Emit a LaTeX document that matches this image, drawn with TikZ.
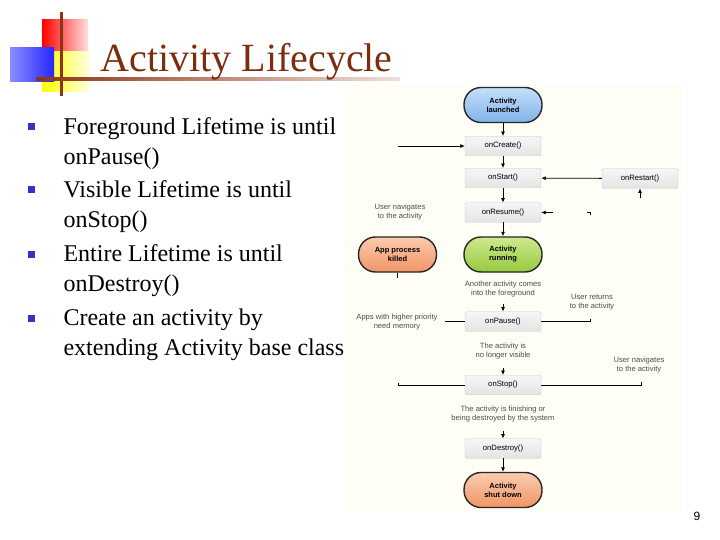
\documentclass[tikz,border=0pt]{standalone}
\usepackage{fontspec}
\setmainfont{Liberation Serif}
\setsansfont{Liberation Sans}
\usetikzlibrary{positioning,arrows.meta}
\definecolor{titlebrown}{RGB}{122,46,14}
\definecolor{barbrown}{RGB}{140,52,20}
\definecolor{bulletblue}{RGB}{51,51,204}
\definecolor{boxline}{RGB}{200,200,200}
\definecolor{boxtop}{RGB}{246,246,246}
\definecolor{boxbot}{RGB}{228,228,228}
\definecolor{paper}{RGB}{254,254,246}
\definecolor{bluetop}{RGB}{196,224,250}
\definecolor{bluebot}{RGB}{128,178,234}
\definecolor{greentop}{RGB}{206,234,140}
\definecolor{greenbot}{RGB}{150,200,64}
\definecolor{orangetop}{RGB}{252,204,176}
\definecolor{orangebot}{RGB}{240,148,100}

\begin{document}
\begin{tikzpicture}[x=1pt,y=-1pt,
	call/.style={draw=boxline, top color=boxtop, bottom color=boxbot, rounded corners=1.5pt,
		minimum width=76pt, minimum height=19.5pt, inner sep=1pt,
		font=\sffamily\fontsize{7.7}{9}\selectfont},
	state/.style={draw=black!85, line width=1.4pt, rounded corners=17pt,
		minimum width=78pt, minimum height=35pt, align=center, inner sep=1pt,
		font=\sffamily\bfseries\fontsize{7.5}{9}\selectfont},
	note/.style={align=center, text=black!70, font=\sffamily\fontsize{7.6}{9}\selectfont},
	item/.style={anchor=north west, align=left, font=\fontsize{24}{30}\selectfont},
	bullet/.style={fill=bulletblue, minimum size=7pt, inner sep=0pt},
	flow/.style={-{Latex[length=4.5pt,width=4pt]}, line width=0.8pt},
	plain/.style={line width=0.8pt}]
		\useasboundingbox (0,0) rectangle (720,540);
		% title mark
		\fill[left color=red, right color=red!12] (42,20) rectangle (88,52);
		\fill[left color=yellow, right color=yellow!10] (42,52) rectangle (90,92);
		\fill[left color=blue!45, right color=blue!85] (10,48) rectangle (54,82);
		\fill[barbrown] (59.5,12) rectangle (62.5,96);
		\fill[left color=barbrown, right color=barbrown!15] (36,77.5) rectangle (400,80.5);
		\node[anchor=base west, text=titlebrown, font=\fontsize{40}{44}\selectfont] (title) at (97,72) {Activity Lifecycle};
		% bullets
		\node[bullet] (m1) at (31,127) {};
		\node[bullet] (m2) at (31,190) {};
		\node[bullet] (m3) at (31,254) {};
		\node[bullet] (m4) at (31,318) {};
		\node[item] (b1) at (60,114) {Foreground Lifetime is until\\onPause()};
		\node[item] (b2) at (60,177) {Visible Lifetime is until\\onStop()};
		\node[item] (b3) at (60,241) {Entire Lifetime is until\\onDestroy()};
		\node[item] (b4) at (60,305) {Create an activity by\\extending Activity base class};
		% lifecycle chart
		\fill[paper] (345,85) rectangle (683,512);
		\node[state, top color=bluetop, bottom color=bluebot] (launched) at (503,105) {Activity\\launched};
		\node[call] (create) at (503,146) {onCreate()};
		\node[call] (start) at (503,178) {onStart()};
		\node[call] (restart) at (640,178.5) {onRestart()};
		\node[call] (resume) at (503,212.5) {onResume()};
		\node[state, top color=orangetop, bottom color=orangebot] (killed) at (397.5,254.5) {App process\\killed};
		\node[state, top color=greentop, bottom color=greenbot] (running) at (503,254.5) {Activity\\running};
		\node[call] (pause) at (503,321.5) {onPause()};
		\node[call] (stop) at (503,385) {onStop()};
		\node[call] (destroy) at (503,448.5) {onDestroy()};
		\node[state, top color=orangetop, bottom color=orangebot] (shutdown) at (503,490) {Activity\\shut down};
		\node[note] (n1) at (400,212) {User navigates\\to the activity};
		\node[note] (n2) at (503,289) {Another activity comes\\into the foreground};
		\node[note] (n3) at (397,322) {Apps with higher priority\\need memory};
		\node[note] (n4) at (592,302) {User returns\\to the activity};
		\node[note] (n5) at (503,351) {The activity is\\no longer visible};
		\node[note] (n6) at (639,365) {User navigates\\to the activity};
		\node[note] (n7) at (503,414) {The activity is finishing or\\being destroyed by the system};
		\coordinate (cin) at (398,146);
		\coordinate (rin) at (640,198);
		\coordinate (resin) at (553,212.5);
		\coordinate (tick) at (590,212.5);
		\coordinate (kout) at (397.5,278);
		\coordinate (pin) at (503,304);
		\coordinate (pl) at (445,321.5);
		\coordinate (pr) at (590,321.5);
		\coordinate (sin) at (503,368);
		\coordinate (sl) at (398,385);
		\coordinate (sr) at (641,385);
		\coordinate (din) at (503,431);
		\draw[flow] (launched) -- (create);
		\draw[flow] (cin) -- (create);
		\draw[flow] (create) -- (start);
		\draw[flow] (restart) -- (start);
		\draw[flow] (rin) -- (restart);
		\draw[flow] (start) -- (resume);
		\draw[flow] (resin) -- (resume);
		\draw[plain] ([xshift=-3pt]tick) -- (tick) -- ++(0,3);
		\draw[flow] (resume) -- (running);
		\draw[plain] (killed) -- (kout);
		\draw[flow] (pin) -- (pause);
		\draw[plain] (pause) -- (pl);
		\draw[plain] (pause) -- (pr) -- ++(0,-3);
		\draw[flow] (sin) -- (stop);
		\draw[plain] (stop) -- (sl) -- ++(0,-2);
		\draw[plain] (stop) -- (sr) -- ++(0,-3);
		\draw[flow] (din) -- (destroy);
		\draw[flow] (destroy) -- (shutdown);
		\node[font=\sffamily\fontsize{12}{14}\selectfont] (page) at (697,516) {9};
	\end{tikzpicture}
\end{document}
